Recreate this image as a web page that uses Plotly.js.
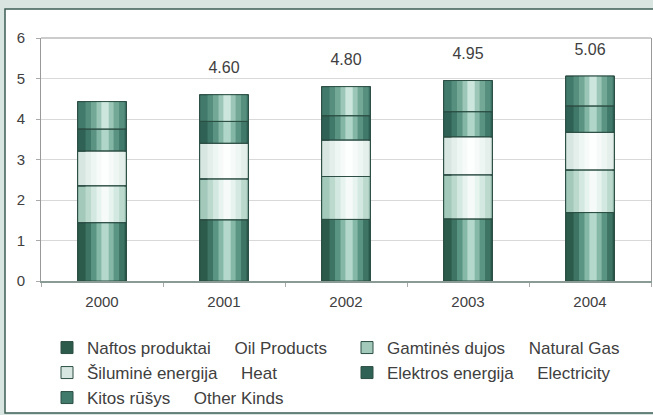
<!DOCTYPE html>
<html>
<head>
<meta charset="utf-8">
<script src="https://cdn.plot.ly/plotly-3.0.1.min.js"></script>
<style>
  html, body { margin: 0; padding: 0; background: #d8e5e1; }
  #chart { width: 653px; height: 415px; }
</style>
</head>
<body>
<div id="chart"></div>
<script>
// ---- Data ----
const years = ['2000', '2001', '2002', '2003', '2004'];
const oilProducts = [1.44, 1.51, 1.52, 1.53, 1.69];
const naturalGas  = [0.91, 1.01, 1.06, 1.09, 1.05];
const heat        = [0.86, 0.88, 0.90, 0.94, 0.93];
const electricity = [0.54, 0.54, 0.60, 0.62, 0.65];
const otherKinds  = [0.68, 0.66, 0.72, 0.77, 0.74];
const totalLabels = ['', '4.60', '4.80', '4.95', '5.06'];

const SP = '\u00a0\u00a0\u00a0\u00a0\u00a0';
const seriesNames = [
  'Naftos produktai' + SP + 'Oil Products',
  'Gamtinės dujos' + SP + 'Natural Gas',
  'Šiluminė energija' + SP + 'Heat',
  'Elektros energija' + SP + 'Electricity',
  'Kitos rūšys' + SP + 'Other Kinds'
];
const seriesValues = [oilProducts, naturalGas, heat, electricity, otherKinds];

// ---- Styles ----
// colour bands from bar edge to highlight (cylinder shading)
const shades = [
  ['#2c5a4b', '#3d7464', '#5a9482', '#86b8a7', '#b4d8cb'],
  ['#a3c9bb', '#bcd9ce', '#d3e8e0', '#e6f3ee', '#f6fbf9'],
  ['#d7e6e0', '#e4efeb', '#eef6f3', '#f6faf8', '#fdfefe'],
  ['#2f6255', '#40786a', '#5b9383', '#84b6a6', '#b0d6c9'],
  ['#41796a', '#568f7e', '#72a895', '#9cc7b8', '#cde6dd']
];
const bandWidths  = [0.4, 0.32, 0.23, 0.14, 0.06];
const bandCenter  = 0.025; // highlight sits a little right of centre
const legendIds = ['legend', 'legend2', 'legend3', 'legend4', 'legend5'];
const outline = '#2d4f45';
const FONT = 'Liberation Sans, Arial, sans-serif';
const TXT = '#404040';

// cumulative bases
const bases = [];
let running = years.map(() => 0);
seriesValues.forEach(vals => {
  bases.push(running.slice());
  running = running.map((r, i) => r + vals[i]);
});
const totals = running;

const traces = [];
bandWidths.forEach((w, b) => {
  seriesValues.forEach((vals, s) => {
    const first = b === 0;
    traces.push({
      type: 'bar', x: years, y: vals, base: bases[s], name: seriesNames[s],
      width: w, offset: first ? -0.2 : bandCenter - w / 2,
      marker: { color: shades[s][b], line: first ? { color: outline, width: 1 } : { width: 0 } },
      legend: legendIds[s], showlegend: first, hoverinfo: 'skip'
    });
  });
});
// outlines on top
seriesValues.forEach((vals, s) => {
  traces.push({
    type: 'bar', x: years, y: vals, base: bases[s],
    width: 0.4, offset: -0.2,
    marker: { color: 'rgba(0,0,0,0)', line: { color: outline, width: 1 } },
    showlegend: false, hoverinfo: 'skip'
  });
});
// total labels (invisible marker pushes the text up above the bar top)
traces.push({
  type: 'scatter', mode: 'markers+text', x: years, y: totals, text: totalLabels,
  textposition: 'top center', cliponaxis: false,
  marker: { size: 26, color: 'rgba(0,0,0,0)', line: { width: 0 } },
  textfont: { family: FONT, size: 16, color: TXT },
  showlegend: false, hoverinfo: 'skip'
});

// plot area geometry (pixels) used for the panel frame
const L = 41, R = 2, T = 38, B = 134, W = 653, H = 415;
const pw = W - L - R, ph = H - T - B;
const px2x = p => (p - L) / pw;
const py2y = p => (H - B - p) / ph;

function legendAt(xpx, ypx) {
  return {
    xref: 'container', yref: 'container',
    x: xpx / W, y: 1 - ypx / H, xanchor: 'left', yanchor: 'top',
    bgcolor: 'rgba(0,0,0,0)', borderwidth: 0,
    font: { family: FONT, size: 17, color: TXT },
    itemclick: false, itemdoubleclick: false
  };
}

const layout = {
  width: W, height: H,
  margin: { l: L, r: R, t: T, b: B, autoexpand: false },
  paper_bgcolor: '#d8e5e1',
  plot_bgcolor: '#ffffff',
  barmode: 'overlay',
  font: { family: FONT, size: 15, color: TXT },
  xaxis: {
    type: 'category', range: [-0.5, 4.5],
    showline: true, linecolor: '#8a9a95', linewidth: 1.5,
    ticks: 'outside', tickson: 'boundaries', ticklen: 4, tickcolor: '#aaaaaa',
    showgrid: false, zeroline: false,
    tickfont: { family: FONT, size: 15, color: TXT },
    ticklabelstandoff: 6
  },
  yaxis: {
    range: [0, 6], dtick: 1, tick0: 0,
    showline: true, linecolor: '#999999', linewidth: 1, mirror: true,
    ticks: 'outside', ticklen: 4, tickcolor: '#aaaaaa',
    gridcolor: '#d9d9d9', gridwidth: 1, zeroline: false,
    tickfont: { family: FONT, size: 15, color: TXT },
    ticklabelstandoff: 8
  },
  shapes: [
    {
      type: 'rect', xref: 'paper', yref: 'paper', layer: 'below',
      x0: px2x(5), x1: px2x(660), y0: py2y(413), y1: py2y(9),
      fillcolor: '#ffffff', line: { color: '#3d5f56', width: 1.5 }
    },
    {
      type: 'line', xref: 'paper', yref: 'paper', layer: 'above',
      x0: 0, x1: 1, y0: 1, y1: 1, line: { color: '#999999', width: 1 }
    }
  ],
  legend:  legendAt(47, 330),
  legend2: legendAt(347, 330),
  legend3: legendAt(47, 355),
  legend4: legendAt(347, 355),
  legend5: legendAt(47, 380)
};

Plotly.newPlot('chart', traces, layout, { staticPlot: true, displayModeBar: false });
</script>
</body>
</html>
